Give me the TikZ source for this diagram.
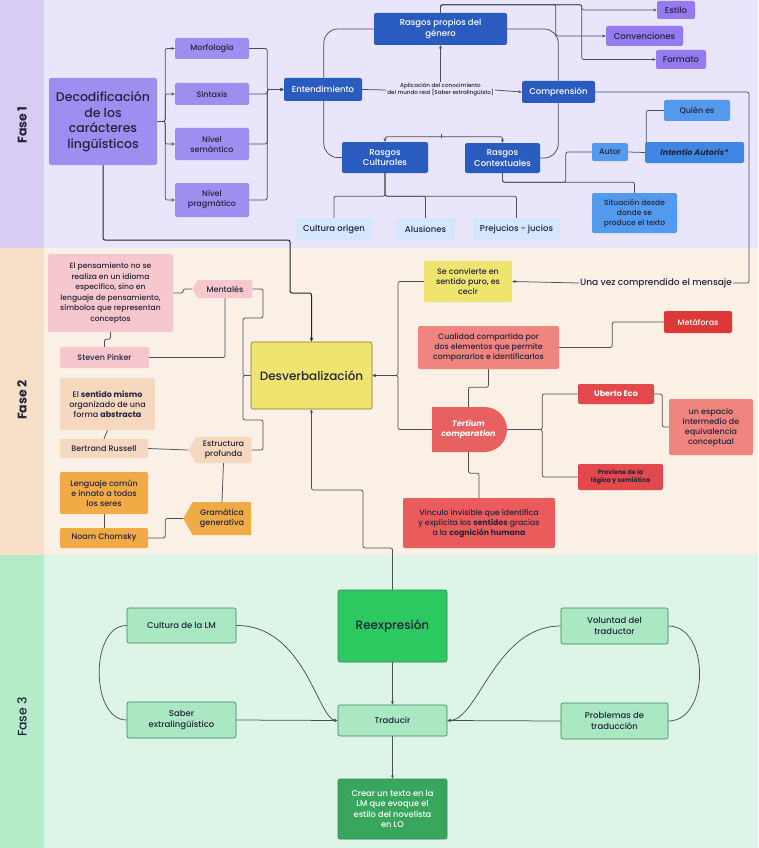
\documentclass[tikz,border=0pt]{standalone}
\usepackage{fontspec}
\setmainfont{Poppins}[UprightFont={* Medium}, BoldFont={* Bold}, ItalicFont={* Medium Italic}, BoldItalicFont={* Bold Italic}]
\usetikzlibrary{arrows.meta,shapes.symbols,shapes.misc}
\definecolor{f1bg}{RGB}{233,229,250}
\definecolor{f1st}{RGB}{217,204,243}
\definecolor{f2bg}{RGB}{250,240,230}
\definecolor{f2st}{RGB}{247,223,200}
\definecolor{f3bg}{RGB}{221,245,231}
\definecolor{f3st}{RGB}{180,236,202}
\definecolor{txt}{RGB}{35,35,60}
\definecolor{lav}{RGB}{157,142,240}
\definecolor{purp}{RGB}{150,122,240}
\definecolor{dblue}{RGB}{42,92,192}
\definecolor{mblue}{RGB}{84,154,236}
\definecolor{iblue}{RGB}{62,134,228}
\definecolor{lblue}{RGB}{212,230,250}
\definecolor{yel}{RGB}{240,228,112}
\definecolor{yelb}{RGB}{130,120,50}
\definecolor{pink}{RGB}{246,200,206}
\definecolor{peach}{RGB}{246,216,190}
\definecolor{orng}{RGB}{240,170,70}
\definecolor{salm}{RGB}{240,132,126}
\definecolor{tertc}{RGB}{232,96,96}
\definecolor{vinc}{RGB}{234,92,92}
\definecolor{redd}{RGB}{226,72,76}
\definecolor{metc}{RGB}{220,56,56}
\definecolor{gbig}{RGB}{44,200,96}
\definecolor{glt}{RGB}{170,232,196}
\definecolor{gbord}{RGB}{60,130,90}
\definecolor{gdark}{RGB}{56,166,92}
\definecolor{lnc}{RGB}{78,78,88}
\pgfdeclarelayer{bands}
\pgfdeclarelayer{lines}
\pgfsetlayers{bands,lines,main}
\tikzset{
  nd/.style={rectangle, rounded corners=2pt, align=center, inner sep=1pt, text=txt, font=\fontsize{8}{10}\selectfont},
  sz/.style 2 args={minimum width=#1pt, minimum height=#2pt},
  tagshape/.style={signal, signal to=west, signal pointer angle=120, align=center, inner sep=1pt, text=txt, font=\fontsize{8}{10}\selectfont},
  ln/.style={draw=lnc, line width=0.75pt, rounded corners=2pt},
  arr/.style={ln, -{Stealth[length=3.5pt,width=3pt]}},
  arrboth/.style={ln, {Stealth[length=3.5pt,width=3pt]}-{Stealth[length=3.5pt,width=3pt]}},
  dark/.style={draw=black!85, line width=1pt, rounded corners=2pt, -{Stealth[length=4pt,width=3.5pt]}},
  curv/.style={draw=lnc, line width=0.75pt},
  fase/.style={rotate=90, text=txt, font=\fontsize{12}{14}\selectfont},
}
\begin{document}
\begin{tikzpicture}[x=1pt,y=-1pt]
\useasboundingbox (0,0) rectangle (758,848);
\begin{pgfonlayer}{bands}
\fill[f1bg] (0,0) rectangle (758,248);
\fill[f1st] (0,0) rectangle (44,248);
\fill[f2bg] (0,248) rectangle (758,555);
\fill[f2st] (0,248) rectangle (44,555);
\fill[f3bg] (0,555) rectangle (758,848);
\fill[f3st] (0,555) rectangle (44,848);
\end{pgfonlayer}

% Phase labels
\node[fase, font=\bfseries\fontsize{12.5}{14}\selectfont] (fa1) at (22,125) {Fase 1};
\node[fase, font=\bfseries\fontsize{12.5}{14}\selectfont] (fa2) at (22,400) {Fase 2};
\node[fase, font=\fontsize{12.5}{14}\selectfont] (fa3) at (22,717) {Fase 3};

% ---------- Fase 1 ----------
\node[nd, fill=lav, sz={108}{87}, font=\fontsize{12.5}{15.5}\selectfont] (decod) at (103,121.5) {Decodificación\\de los\\carácteres\\lingüísticos};
\node[nd, fill=lav, sz={74}{21}] (morf) at (212,48.5) {Morfología};
\node[nd, fill=lav, sz={74}{22}] (sint) at (212,94) {Sintaxis};
\node[nd, fill=lav, sz={74}{32}] (sem) at (212,144) {Nivel\\semántico};
\node[nd, fill=lav, sz={74}{34}] (prag) at (212,200) {Nivel\\pragmático};
\node[nd, fill=dblue, text=white, sz={78}{23}, font=\fontsize{8.5}{10}\selectfont] (ent) at (323,89.5) {Entendimiento};
\node[nd, fill=dblue, text=white, sz={133}{32}, font=\fontsize{8.5}{10.5}\selectfont] (gen) at (440.5,29) {Rasgos propios del\\género};
\node[nd, fill=dblue, text=white, sz={73}{22}, font=\fontsize{8.5}{10}\selectfont] (comp) at (558.5,92) {Comprensión};
\node[nd, fill=dblue, text=white, sz={86}{31}, font=\fontsize{8.5}{10.5}\selectfont] (cult) at (385,157.5) {Rasgos\\Culturales};
\node[nd, fill=dblue, text=white, sz={75}{30}, font=\fontsize{8.5}{10.5}\selectfont] (cont) at (502.5,158) {Rasgos\\Contextuales};
\node[align=center, inner sep=1pt, text=txt, font=\fontsize{5.6}{7}\selectfont] (apl) at (440.5,90) {Aplicación del conocimiento\\del mundo real [Saber extralingüísto]};
\node[nd, fill=lblue, sz={76}{22}, font=\fontsize{8.5}{10}\selectfont] (corig) at (334,229) {Cultura origen};
\node[nd, fill=lblue, sz={59}{22}, font=\fontsize{8.5}{10}\selectfont] (alus) at (425.5,229) {Alusiones};
\node[nd, fill=lblue, sz={87}{22}, font=\fontsize{8.5}{10}\selectfont] (prej) at (516.5,229) {Prejucios - jucios};
\node[nd, fill=purp, sz={38}{18}, font=\fontsize{8.5}{10}\selectfont] (estilo) at (676,10) {Estilo};
\node[nd, fill=purp, sz={77}{20}, font=\fontsize{8.5}{10}\selectfont] (conv) at (644.5,36) {Convenciones};
\node[nd, fill=purp, sz={50}{19}, font=\fontsize{8.5}{10}\selectfont] (formato) at (681,59.5) {Formato};
\node[nd, fill=mblue, sz={36}{18}] (autor) at (610,152) {Autor};
\node[nd, fill=iblue, sz={99}{21}] (intentio) at (694.5,152.5) {\textbf{\textit{Intentio Autoris*}}};
\node[nd, fill=mblue, sz={66}{21}] (quien) at (697,110.5) {Quién es};
\node[nd, fill=mblue, sz={85}{40}, font=\fontsize{7.5}{10}\selectfont] (sit) at (634.5,213) {Situación desde\\donde se\\produce el texto};

% ---------- Fase 2 ----------
\node[nd, fill=yel, draw=yelb, line width=0.6pt, sz={121}{67}, font=\fontsize{12}{14}\selectfont] (desv) at (311.5,375.5) {Desverbalización};
\node[inner sep=1pt, text=txt, font=\fontsize{9}{11}\selectfont] (una) at (656,283) {Una vez comprendido el mensaje};
\node[nd, fill=yel, sz={88}{41}] (conv2) at (468,281.5) {Se convierte en\\sentido puro, es\\cecir};
\node[nd, fill=salm, sz={141}{43}, font=\fontsize{7.8}{10}\selectfont] (cual) at (488.5,347.5) {Cualidad compartida por\\dos elementos que permite\\compararlos e identificarlos};
\node[rounded rectangle, rounded rectangle west arc=none, fill=tertc, text=white, align=center, inner sep=1pt, sz={77}{45}, font=\fontsize{8}{10}\selectfont] (tert) at (468.5,429.5) {\textbf{\textit{Tertium}}\\\textbf{\textit{comparation}}};
\node[nd, fill=vinc, sz={152}{50}, font=\fontsize{7.8}{10}\selectfont] (vinc) at (479,523) {Vínculo invisible que identifica\\y explicita los \textbf{sentidos} gracias\\a la \textbf{cognición humana}};
\node[nd, fill=redd, text=white, sz={76}{20}, font=\bfseries\fontsize{8}{10}\selectfont] (uberto) at (616,394) {Uberto Eco};
\node[nd, fill=redd, sz={85}{26}, font=\bfseries\fontsize{6.3}{8}\selectfont] (prov) at (620.5,477) {Proviene de la\\lógica y semiótica};
\node[nd, fill=salm, sz={84}{56}] (espacio) at (711,427) {un espacio\\intermedio de\\equivalencia\\conceptual};
\node[nd, fill=metc, text=white, sz={68}{22}] (metaf) at (698,322) {Metáforas};

\node[nd, fill=pink, sz={125}{78}, font=\fontsize{7.6}{10.6}\selectfont] (pens) at (110.5,293) {El pensamiento no se\\realiza en un idioma\\especifico, sino en\\lenguaje de pensamiento,\\símbolos que representan\\conceptos};
\node[tagshape, fill=pink, sz={60}{18}] (mental) at (225,289) {Mentalés};
\node[nd, fill=pink, sz={89}{21}] (pinker) at (104.5,357.5) {Steven Pinker};
\node[nd, fill=peach, sz={95}{52}] (sentido) at (107.5,404) {El \textbf{sentido mismo}\\organizado de una\\forma \textbf{abstracta}};
\node[nd, fill=peach, sz={88}{19}] (russell) at (104,448.5) {Bertrand Russell};
\node[tagshape, fill=peach, sz={63}{26}] (estruct) at (223.5,450) {Estructura\\profunda};
\node[tagshape, fill=orng, sz={68}{33}] (gram) at (222,518.5) {Gramática\\generativa};
\node[nd, fill=orng, sz={88}{42}] (lengc) at (104,493) {Lenguaje común\\e innato a todos\\los seres};
\node[nd, fill=orng, sz={88}{20}] (noam) at (104,538) {Noam Chomsky};

% ---------- Fase 3 ----------
\node[nd, fill=gbig, draw=gbord, line width=0.6pt, sz={109}{72}, font=\fontsize{12}{14}\selectfont] (reex) at (392.5,626) {Reexpresión};
\node[nd, fill=glt, draw=gbord, line width=0.6pt, sz={109}{35}, font=\fontsize{8.5}{10.5}\selectfont] (cultlm) at (181.5,625.5) {Cultura de la LM};
\node[nd, fill=glt, draw=gbord, line width=0.6pt, sz={109}{36}, font=\fontsize{8.5}{10.5}\selectfont] (saber) at (181.5,720) {Saber\\extralingüístico};
\node[nd, fill=glt, draw=gbord, line width=0.6pt, sz={109}{31}, font=\fontsize{8.5}{10.5}\selectfont] (trad) at (392.5,720.5) {Traducir};
\node[nd, fill=gdark, draw=gbord, line width=0.6pt, text=white, sz={109}{60}, font=\fontsize{8.3}{10.5}\selectfont] (crear) at (392.5,809) {Crear un texto en la\\LM que evoque el\\estilo del novelista\\en LO};
\node[nd, fill=glt, draw=gbord, line width=0.6pt, sz={107}{36}, font=\fontsize{8.5}{10.5}\selectfont] (volun) at (614.5,626) {Voluntad del\\traductor};
\node[nd, fill=glt, draw=gbord, line width=0.6pt, sz={107}{36}, font=\fontsize{8.5}{10.5}\selectfont] (probl) at (614.5,721) {Problemas de\\traducción};

% ---------- connectors ----------
\begin{pgfonlayer}{lines}
% decod -> levels
\foreach \n in {morf,sint,sem,prag} {
  \draw[arr] (decod.east) -- ++(8,0) |- (\n.west);
  \draw[arr] (\n.east) -- ++(18,0) |- (ent.west);
}
% entendimiento -> comprension
\draw[ln] (ent.east) -- (apl.west);
\draw[arr] (apl.east) -- (comp.west);
\draw[arr] (apl.north) -- (gen.south);
% loops
\draw[ln, rounded corners=14pt] (gen.west) -| ([xshift=-18pt]cult.west) -- (cult.west);
\draw[ln, rounded corners=14pt] (gen.east) -| ([xshift=18pt]cont.east) -- (cont.east);
\draw[arrboth] (cult.north) -- ++(0,-5) -| (cont.north);
\draw[ln] (441,137.5) -- (441,133.5);
% culturales -> leaves
\draw[ln] (cult.south) -- ++(0,23) -| (corig.north);
\draw[ln] (cult.south) -- ++(0,23) -| (alus.north);
\draw[ln] (cult.south) -- ++(0,23) -| (prej.north);
% contextuales -> autor / situacion
\draw[ln] (cont.south) -- ++(0,9) -| (sit.north);
\draw[ln] (cont.south) -- ++(0,9) -| ([xshift=-26pt]autor.west) -- (autor.west);
\draw[ln] (autor.east) -- (intentio.west);
\draw[ln] (quien.west) -| ([xshift=1.5pt]intentio.north west);
% genero -> estilo etc
\draw[arr] (gen.north) -- ++(0,-8) -| ([xshift=-50pt]conv.west) -- (conv.west);
\draw[arr] (gen.north) -- ++(0,-8) -| ([xshift=-75pt]estilo.west) -- (estilo.west);
\draw[arr] (gen.north) -- ++(0,-8) -| ([xshift=-74pt]formato.west) -- (formato.west);
% comprension -> se convierte
\coordinate (cr) at (749,283);
\draw[ln] (comp.east) -| (cr) -- (una.east);
\draw[arr] (una.west) -- (conv2.east);
% decod -> desverbalizacion
\coordinate (d1) at (290,240);
\coordinate (d2) at (290,293);
\draw[dark] (decod.south) |- (d1) -- (d2) -| (desv.north);

% Fase 2 right side
\coordinate (c3) at (398,375.5);
\draw[arr] (conv2.west) -| (c3) -- (desv.east);
\draw[arr] (tert.west) -| (c3) -- (desv.east);
\draw[ln] (cual.south) -- ++(0,18) -| (tert.north);
\draw[ln] (tert.south) -- ++(0,21) -| (vinc.north);
\draw[ln] (tert.east) -- ++(35,0) |- (uberto.west);
\draw[ln] (tert.east) -- ++(35,0) |- (prov.west);
\draw[ln] (uberto.east) -- ++(8,0) |- (espacio.west);
\draw[ln] (cual.east) -- ++(53,0) |- (metaf.west);
% reexpresion -> desverbalizacion
\draw[arr] (reex.north) |- (363,548) -- (363,490) -| (desv.south);

% Fase 2 left side
\draw[ln] (pens.east) -- ++(10,0) |- (mental.west);
\draw[ln] (pens.south) -- ++(0,7) -| (pinker.north);
\draw[ln] (mental.south) |- (pinker.east);
\draw[ln] (mental.east) -- (263,289) -- (263,318) -- (243,318) -- (243,375.5) -- (desv.west);
\draw[ln] (estruct.east) -- (263,450) -- (263,420) -- (243,420) -- (243,375.5) -- (desv.west);
\draw[ln] (sentido.south) -- (russell.north);
\draw[ln] (russell.east) -- (estruct.west);
\draw[ln] (estruct.south) -- (gram.north);
\draw[ln] (lengc.south) -- (noam.north);
\draw[ln] (noam.east) -- ++(17,0) |- (gram.west);

% Fase 3
\draw[arr] (reex.south) -- (trad.north);
\draw[arr] (trad.south) -- (crear.north);
\draw[arr] (saber.east) -- (trad.west);
\draw[curv, -{Stealth[length=3.5pt,width=3pt]}] (cultlm.east) .. controls (305,625) and (318,720) .. (trad.west);
\draw[curv] (cultlm.west) .. controls (90,625) and (90,720) .. (saber.west);
\draw[curv, -{Stealth[length=3.5pt,width=3pt]}] (volun.west) .. controls (495,626) and (478,721) .. (trad.east);
\draw[arr] (probl.west) -- (trad.east);
\draw[curv] (volun.east) .. controls (710,626) and (710,721) .. (probl.east);
\end{pgfonlayer}
\end{tikzpicture}
\end{document}
